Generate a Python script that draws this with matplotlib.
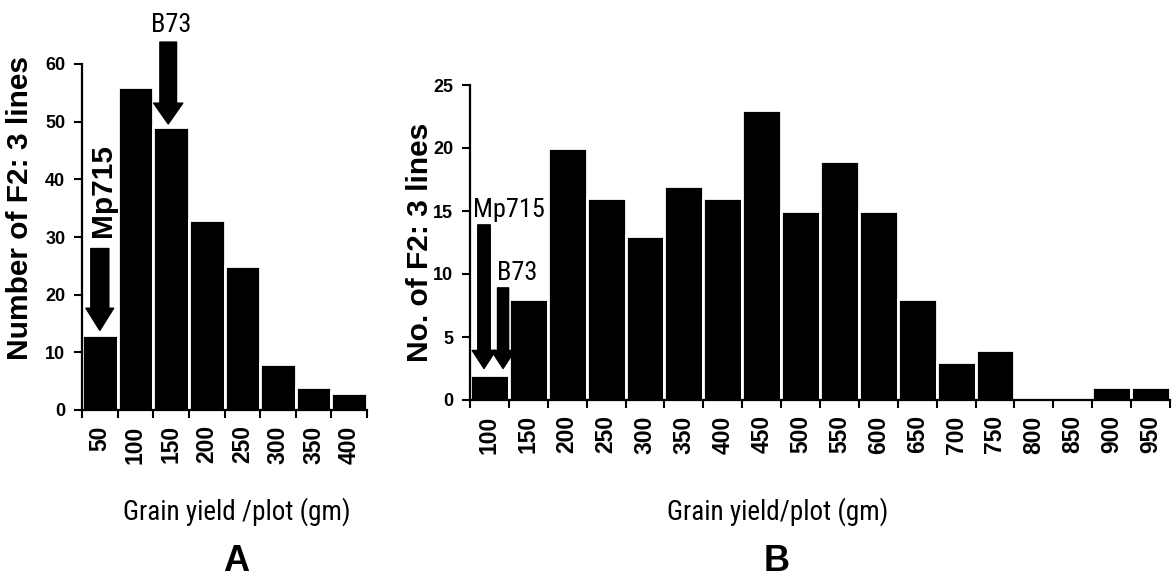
import numpy as np
import matplotlib
matplotlib.use("Agg")
import matplotlib.pyplot as plt
from matplotlib import font_manager

# grain yield classes (gm) and counts of F2:3 lines
yield_a = ["50", "100", "150", "200", "250", "300", "350", "400"]
count_a = [13, 56, 49, 33, 25, 8, 4, 3]

yield_b = ["100", "150", "200", "250", "300", "350", "400", "450", "500",
           "550", "600", "650", "700", "750", "800", "850", "900", "950"]
count_b = [2, 8, 20, 16, 13, 17, 16, 23, 15, 19, 15, 8, 3, 4, 0, 0, 1, 1]

installed = {f.name for f in font_manager.fontManager.ttflist}
narrow_pick = [n for n in ("Liberation Sans Narrow", "Roboto Condensed",
                           "DejaVu Sans Condensed", "Open Sans Condensed")
               if n in installed]
NARROW = narrow_pick[:1] + ["Liberation Sans", "DejaVu Sans"]
BOLD = ["Liberation Sans", "DejaVu Sans"]
# plain sans is wider than the condensed faces, so shrink it a bit
NS = 1.0 if narrow_pick else 0.82


def histo(ax, labels, counts, ymax, ystep):
    x = np.arange(len(counts))
    ax.bar(x, counts, width=1.0, color="black", edgecolor="white",
           linewidth=2, zorder=2)
    ax.set_xlim(-0.5, len(counts) - 0.5)
    ax.set_ylim(0, ymax)
    for side in ("top", "right"):
        ax.spines[side].set_visible(False)
    for side in ("left", "bottom"):
        ax.spines[side].set_linewidth(1.6)
        ax.spines[side].set_zorder(5)
    # ticks at the class edges, labels at the class centres
    ax.set_xticks(np.arange(len(counts) + 1) - 0.5)
    ax.set_xticklabels([])
    ax.set_xticks(x, minor=True)
    ax.set_xticklabels(labels, minor=True, rotation=90, fontweight="bold",
                       family=BOLD, fontsize=16.5)
    ax.tick_params(axis="x", which="major", length=6, width=1.5, direction="out")
    ax.tick_params(axis="x", which="minor", length=0, pad=11)
    ax.set_yticks(np.arange(0, ymax + 1, ystep))
    ax.tick_params(axis="y", length=6, width=1.5, pad=6)
    for t in ax.get_yticklabels():
        t.set_fontweight("bold")
        t.set_family(BOLD)
        t.set_fontsize(13)


def arrow(ax, x, y_tail, y_tip, tail_w, head_w, head_l):
    ax.annotate("", xy=(x, y_tip), xytext=(x, y_tail),
                arrowprops=dict(arrowstyle="simple,head_length=%g,head_width=%g,tail_width=%g"
                                % (head_l, head_w, tail_w),
                                color="black", shrinkA=0, shrinkB=0,
                                mutation_scale=20),
                annotation_clip=False, zorder=6)


fig = plt.figure(figsize=(11.73, 5.8), dpi=100)

# panel A
axA = fig.add_axes([82 / 1173, 170 / 580, 285 / 1173, 346 / 580])
histo(axA, yield_a, count_a, 60, 10)
arrow(axA, 0, 28, 13.8, 0.65, 1.0, 0.8)
arrow(axA, 1.92, 63.8, 49.6, 0.6, 1.05, 0.75)
axA.text(0.1, 38, "Mp715", rotation=90, ha="center", va="center",
         fontsize=21.5, fontweight="bold", family=BOLD)
axA.text(2.0, 66.8, "B73", ha="center", va="center", fontsize=19 * NS,
         family=NARROW, clip_on=False)
fig.text(20 / 1173, 1 - 208 / 580, "Number of F2: 3 lines", rotation=90,
         ha="center", va="center", fontsize=21.5, fontweight="bold", family=BOLD)
fig.text(237 / 1173, 1 - 520 / 580, "Grain yield /plot (gm)", ha="center",
         va="baseline", fontsize=19.5 * NS, family=NARROW)
fig.text(236 / 1173, 1 - 571 / 580, "A", ha="center", va="baseline",
         fontsize=26, fontweight="bold", family=BOLD)

# panel B
axB = fig.add_axes([470 / 1173, 180 / 580, 700 / 1173, 315 / 580])
histo(axB, yield_b, count_b, 25, 5)
arrow(axB, -0.14, 13.9, 2.5, 0.45, 0.85, 0.65)
arrow(axB, 0.35, 8.9, 2.5, 0.4, 0.85, 0.65)
axB.text(-0.42, 15.1, "Mp715", ha="left", va="center", fontsize=19 * NS,
         family=NARROW)
axB.text(0.71, 10.1, "B73", ha="center", va="center", fontsize=19 * NS,
         family=NARROW)
fig.text(420 / 1173, 1 - 242 / 580, "No. of F2: 3 lines", rotation=90,
         ha="center", va="center", fontsize=21.5, fontweight="bold", family=BOLD)
fig.text(778 / 1173, 1 - 520 / 580, "Grain yield/plot (gm)", ha="center",
         va="baseline", fontsize=19.5 * NS, family=NARROW)
fig.text(777 / 1173, 1 - 571 / 580, "B", ha="center", va="baseline",
         fontsize=26, fontweight="bold", family=BOLD)

fig.savefig("out.png", dpi=100)
